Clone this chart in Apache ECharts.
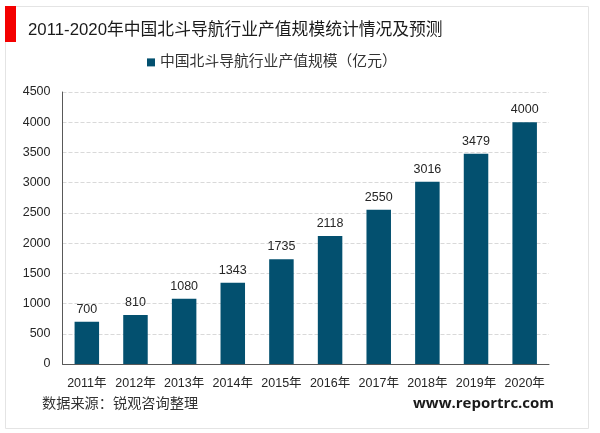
<!DOCTYPE html>
<html>
<head>
<meta charset="utf-8">
<style>
  html, body { margin: 0; padding: 0; background: #fff; }
  #chart { width: 600px; height: 433px; }
</style>
<script src="https://cdn.jsdelivr.net/npm/echarts@6/dist/echarts.min.js"></script>
</head>
<body>
<div id="chart"></div>
<script>
// 数据
const years = ['2011年', '2012年', '2013年', '2014年', '2015年', '2016年', '2017年', '2018年', '2019年', '2020年']
const outputValue = [700, 810, 1080, 1343, 1735, 2118, 2550, 3016, 3479, 4000]
const seriesName = '中国北斗导航行业产值规模（亿元）'
const titleText = '2011-2020年中国北斗导航行业产值规模统计情况及预测'
const sourceText = '数据来源：锐观咨询整理'
const siteText = 'www.reportrc.com'

const fontLatin = 'Liberation Sans, Noto Sans CJK SC, sans-serif'
const myChart = echarts.init(document.getElementById('chart'))
const option = {
  animation: false,
  textStyle: { fontFamily: fontLatin },
  title: {
    text: titleText,
    left: 23,
    top: 17,
    textStyle: { fontSize: 16.8, fontWeight: 'normal', color: '#1a1a1a', fontFamily: fontLatin }
  },
  legend: {
    data: [{ name: seriesName, icon: 'rect' }],
    left: 147,
    top: 55,
    itemWidth: 8,
    itemHeight: 8,
    itemGap: 2,
    padding: 0,
    textStyle: { fontSize: 14.8, color: '#333', fontFamily: fontLatin }
  },
  grid: { left: 62.5, right: 51, top: 92, bottom: 69 },
  xAxis: {
    type: 'category',
    data: years,
    axisTick: { show: false },
    axisLine: { lineStyle: { color: '#595959', width: 1 } },
    axisLabel: { fontSize: 12.5, color: '#262626', margin: 13, interval: 0 }
  },
  yAxis: {
    type: 'value',
    min: 0,
    max: 4500,
    interval: 500,
    axisLine: { show: true, lineStyle: { color: '#595959', width: 1 } },
    axisTick: { show: false },
    axisLabel: { fontSize: 12.5, color: '#262626', margin: 12, formatter: (v) => String(v) },
    splitLine: { lineStyle: { color: '#d9d9d9', type: 'dashed', width: 1 } }
  },
  series: [{
    name: seriesName,
    type: 'bar',
    data: outputValue,
    barWidth: 24.5,
    itemStyle: { color: '#03506f' },
    label: { show: true, position: 'top', distance: 6, fontSize: 12.5, color: '#262626' }
  }],
  graphic: [
    // 外框和左上角红块
    { type: 'rect', z: -1, shape: { x: 5.5, y: 6.5, width: 583, height: 422 }, style: { fill: '#fff', stroke: '#e4e4e4', lineWidth: 1 } },
    { type: 'rect', shape: { x: 5, y: 6, width: 11, height: 36 }, style: { fill: '#f40000' } },
    { type: 'text', left: 42, top: 397, style: { text: sourceText, fontSize: 14.2, fill: '#333', fontFamily: fontLatin } },
    { type: 'text', left: 413, top: 396, style: { text: siteText, fontSize: 15, fontWeight: 'bold', fill: '#1a1a1a', fontFamily: 'Open Sans, sans-serif' } }
  ]
}
myChart.setOption(option)
</script>
</body>
</html>
